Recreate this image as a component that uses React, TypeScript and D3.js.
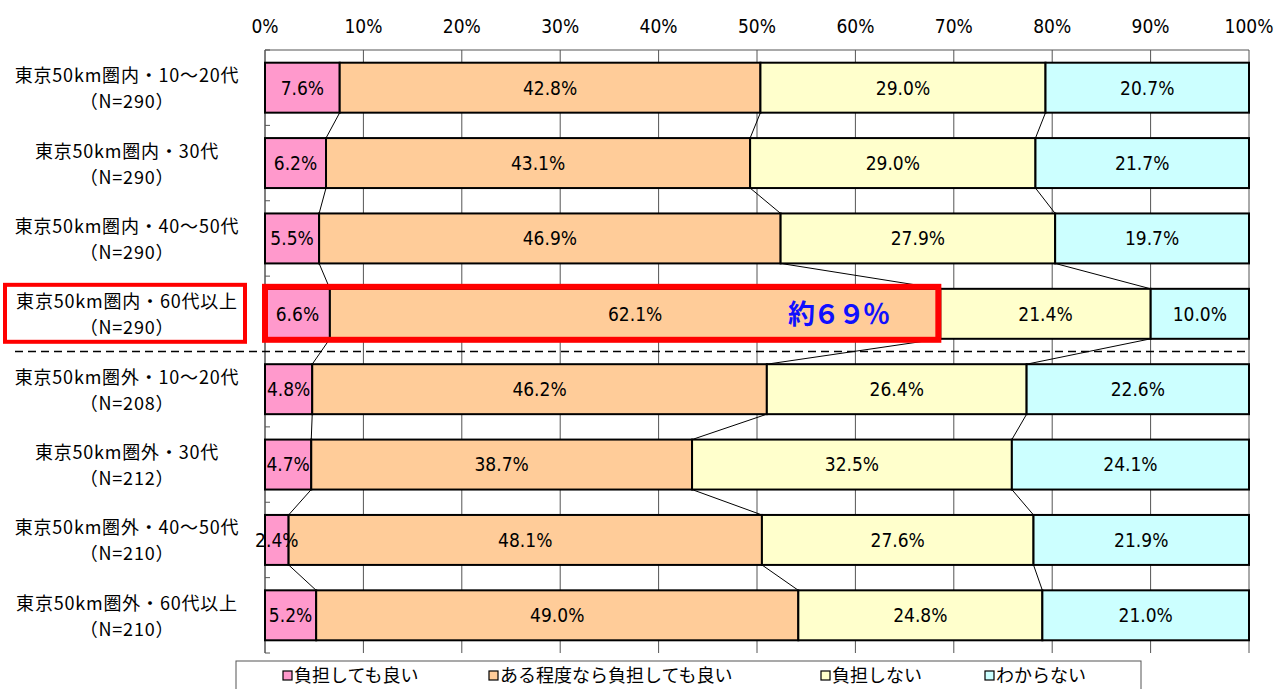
import React from "react";
import * as d3 from "d3";

const categories = [
  "東京50km圏内・10～20代",
  "東京50km圏内・30代",
  "東京50km圏内・40～50代",
  "東京50km圏内・60代以上",
  "東京50km圏外・10～20代",
  "東京50km圏外・30代",
  "東京50km圏外・40～50代",
  "東京50km圏外・60代以上",
];
const sampleSizes = ["（N=290）", "（N=290）", "（N=290）", "（N=290）", "（N=208）", "（N=212）", "（N=210）", "（N=210）"];

const seriesNames = ["負担しても良い", "ある程度なら負担しても良い", "負担しない", "わからない"];
const seriesColors = ["#FF99CC", "#FFCC99", "#FFFFCC", "#CCFFFF"];

const sOk = [7.6, 6.2, 5.5, 6.6, 4.8, 4.7, 2.4, 5.2];
const sSomewhat = [42.8, 43.1, 46.9, 62.1, 46.2, 38.7, 48.1, 49.0];
const sNo = [29.0, 29.0, 27.9, 21.4, 26.4, 32.5, 27.6, 24.8];
const sUnknown = [20.7, 21.7, 19.7, 10.0, 22.6, 24.1, 21.9, 21.0];
const seriesValues = [sOk, sSomewhat, sNo, sUnknown];

const xTicks = [0, 10, 20, 30, 40, 50, 60, 70, 80, 90, 100];
const highlightIndex = 3;
const highlightText = "約６９％";

const W = 1285;
const H = 689;
const left = 265;
const right = 1249;
const top = 50;
const bottom = 653;

const numFont = '"Liberation Sans Narrow", "DejaVu Sans Condensed", "Liberation Sans", sans-serif';
const jpFont = '"Noto Sans CJK JP", "Noto Sans", sans-serif';

export default function App() {
  const x = d3.scaleLinear().domain([0, 100]).range([left, right]);
  const y = d3
    .scaleBand<number>()
    .domain(d3.range(categories.length))
    .range([top, bottom])
    .paddingInner(0.337)
    .paddingOuter(0.1685);
  const bw = y.bandwidth();
  const step = y.step();

  const rows = categories.map((_, i) => {
    const vals = seriesValues.map((s) => s[i]);
    const total = d3.sum(vals);
    let acc = 0;
    const segs = vals.map((v, j) => {
      const x0 = (acc / total) * 100;
      acc += v;
      const x1 = (acc / total) * 100;
      return { j, v, x0, x1 };
    });
    return segs;
  });

  const boundaries = d3.range(categories.length + 1).map((k) => top + k * step);

  const hy = y(highlightIndex)!;
  const dashY = (y(highlightIndex)! + bw + y(highlightIndex + 1)!) / 2;

  const legendX = [283, 489, 821, 985];

  return (
    <svg width={W} height={H} style={{ position: "absolute", left: 0, top: 0, background: "#fff" }}>
      {/* gridlines */}
      {xTicks.map((t) => (
        <line key={"g" + t} x1={x(t)} x2={x(t)} y1={top} y2={bottom} stroke="#555" strokeWidth={1} />
      ))}
      <line x1={left} x2={right} y1={top} y2={top} stroke="#555" strokeWidth={1} />
      {/* left axis */}
      <line x1={left} x2={left} y1={top} y2={bottom} stroke="#555" strokeWidth={1} />
      {boundaries.map((b, k) => (
        <line key={"t" + k} x1={left} x2={left + 5} y1={b} y2={b} stroke="#555" strokeWidth={1} />
      ))}
      {/* x tick labels */}
      {xTicks.map((t) => (
        <text key={"xl" + t} x={x(t)} y={33} textAnchor="middle" fontFamily={numFont} fontSize={19} fill="#000">
          {t}%
        </text>
      ))}
      {/* series lines */}
      {rows.slice(0, -1).map((segs, i) =>
        segs.slice(0, 3).map((s, j) => (
          <line
            key={`sl${i}-${j}`}
            x1={x(s.x1)}
            x2={x(rows[i + 1][j].x1)}
            y1={y(i)! + bw}
            y2={y(i + 1)!}
            stroke="#000"
            strokeWidth={1}
          />
        ))
      )}
      {/* bars */}
      {rows.map((segs, i) =>
        segs.map((s) => (
          <rect
            key={`b${i}-${s.j}`}
            x={x(s.x0)}
            y={y(i)!}
            width={x(s.x1) - x(s.x0)}
            height={bw}
            fill={seriesColors[s.j]}
            stroke="#000"
            strokeWidth={2}
          />
        ))
      )}
      {/* value labels */}
      {rows.map((segs, i) =>
        segs.map((s) => (
          <text
            key={`v${i}-${s.j}`}
            x={(x(s.x0) + x(s.x1)) / 2}
            y={y(i)! + bw / 2}
            dy="0.36em"
            textAnchor="middle"
            fontFamily={numFont}
            fontSize={19}
            fill="#000"
          >
            {s.v.toFixed(1)}%
          </text>
        ))
      )}
      {/* row labels */}
      {categories.map((c, i) => (
        <g key={"rl" + i}>
          <text x={127} y={y(i)! + bw / 2 - 12} dy="0.36em" textAnchor="middle" fontFamily={jpFont} fontSize={18} letterSpacing={0.8} fill="#000">
            {c}
          </text>
          <text x={127} y={y(i)! + bw / 2 + 14} dy="0.36em" textAnchor="middle" fontFamily={jpFont} fontSize={18} letterSpacing={0.8} fill="#000">
            {sampleSizes[i]}
          </text>
        </g>
      ))}
      {/* dashed separator */}
      <line x1={15} x2={right} y1={dashY} y2={dashY} stroke="#000" strokeWidth={1.5} strokeDasharray="8,5" />
      {/* highlight boxes */}
      <rect x={5} y={hy - 4} width={240} height={bw + 7} fill="none" stroke="#FF0000" strokeWidth={4} />
      <rect
        x={x(0)}
        y={hy - 2}
        width={x(rows[highlightIndex][1].x1) - x(0) - 2}
        height={bw + 3}
        fill="none"
        stroke="#FF0000"
        strokeWidth={6}
      />
      <text
        x={838}
        y={hy + bw / 2}
        dy="0.36em"
        textAnchor="middle"
        fontFamily={jpFont}
        fontWeight="bold"
        fontSize={27}
        letterSpacing={-2}
        fill="#1010FF"
      >
        {highlightText}
      </text>
      {/* legend */}
      <rect x={236} y={661} width={905} height={40} fill="#fff" stroke="#555" strokeWidth={1} />
      {seriesNames.map((n, j) => (
        <g key={"lg" + j}>
          <rect x={legendX[j]} y={671} width={9} height={9} fill={seriesColors[j]} stroke="#000" strokeWidth={1.2} />
          <text x={legendX[j] + 11} y={676} dy="0.36em" fontFamily={jpFont} fontSize={18} fill="#000">
            {n}
          </text>
        </g>
      ))}
    </svg>
  );
}
